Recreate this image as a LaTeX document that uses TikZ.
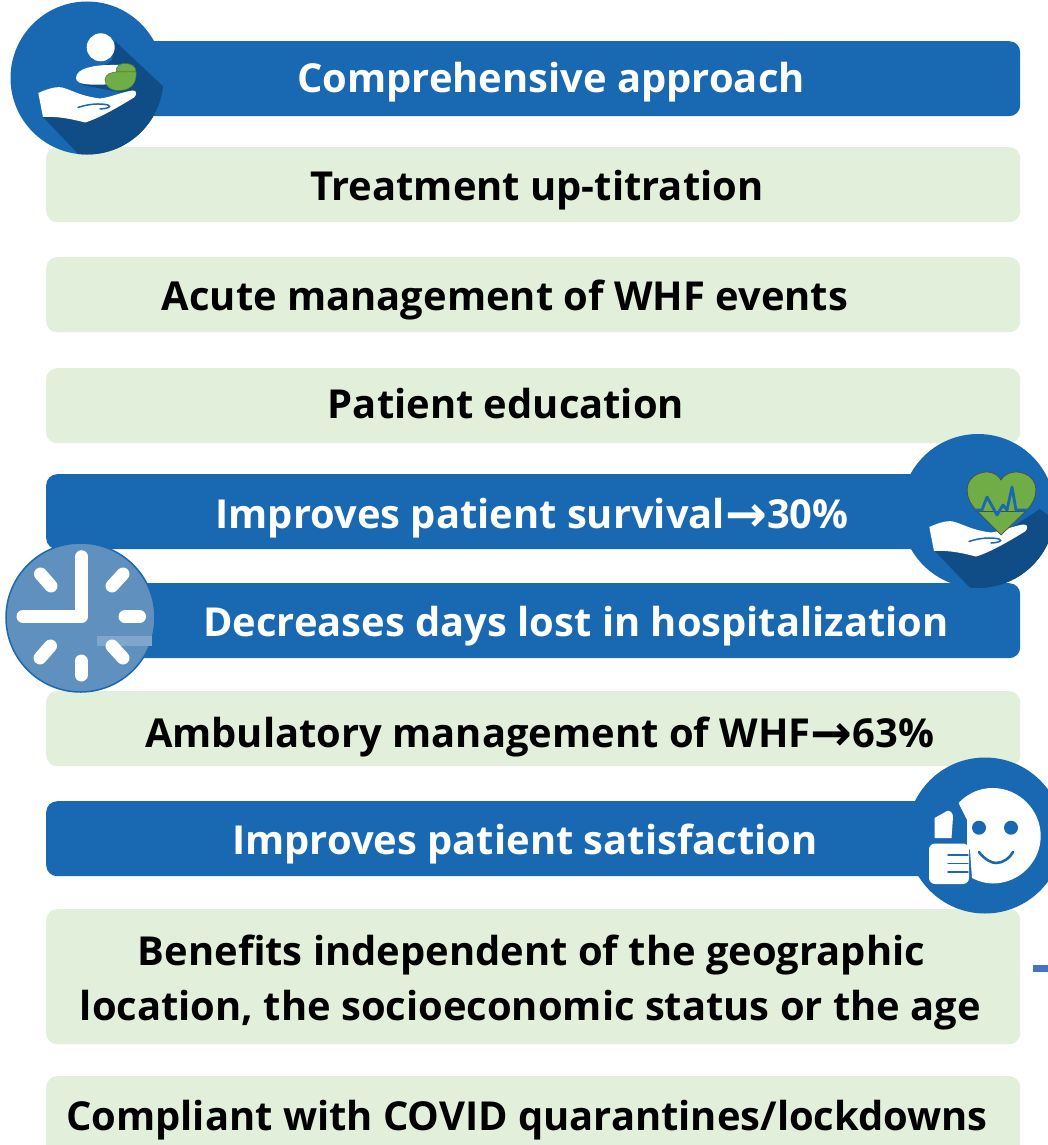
\documentclass[tikz,border=0pt]{standalone}
\usepackage{fontspec}
\setmainfont{Open Sans}
\newfontfamily\arrowfont{DejaVu Sans}
\definecolor{barblue}{HTML}{1868B2}
\definecolor{bargreen}{HTML}{E2EFDA}
\definecolor{iconshadow}{HTML}{104C85}
\definecolor{icongreen}{HTML}{70AD47}
\definecolor{clockfill}{HTML}{6090BD}
\definecolor{clockmark}{HTML}{7FA6CC}
\definecolor{dashblue}{HTML}{4472C4}
\newcommand{\arr}{{\fontsize{50}{50}\arrowfont\bfseries\raisebox{-3.5pt}{→}}}
\tikzset{
  barbase/.style={rounded corners=11pt,minimum width=974pt,inner sep=0pt,anchor=north west,minimum height=75pt},
  bluebar/.style={barbase,fill=barblue},
  greenbar/.style={barbase,fill=bargreen},
  lab/.style={inner sep=0pt,anchor=base,font=\fontsize{39.9}{55}\selectfont\bfseries,align=center},
  wlab/.style={lab,text=white},
  klab/.style={lab,text=black},
  handshape/.style={fill=white,draw=none},
  crease/.style={draw=barblue,line width=1.5pt,line cap=round},
  clockline/.style={draw=white,line width=13pt,line cap=round},
  thinblue/.style={draw=barblue,line width=1.4pt,line cap=round},
}
\newcommand{\handat}[2]{%
  \begin{scope}[shift={(#1,#2)}]
    \path[handshape] (38.3,93) .. controls (45,90) and (55,86) .. (62,87.5) .. controls (72,90) and (80,96) .. (100,98.5)
      .. controls (112,97) and (125,91) .. (133,90.5) .. controls (137,90.5) and (137,95) .. (134,97.5)
      .. controls (120,106) and (100,118) .. (85,122.5) .. controls (75,120) and (60,116) .. (43,117) -- cycle;
    \draw[crease] (78,107.5) .. controls (88,104) and (100,103) .. (108,105) .. controls (112,107) and (108,108.5) .. (100,109);
  \end{scope}}
\begin{document}
\begin{tikzpicture}[x=1pt,y=-1pt]
\useasboundingbox (0,0) rectangle (1048,1145);
\fill[white] (0,0) rectangle (1048,1145);
% bars
\node[bluebar]  (b1) at (46,41)  {};
\node[greenbar] (b2) at (46,147) {};
\node[greenbar] (b3) at (46,257) {};
\node[greenbar] (b4) at (46,368) {};
\node[bluebar]  (b5) at (46,474) {};
\node[bluebar]  (b6) at (46,583) {};
\node[greenbar] (b7) at (46,691) {};
\node[bluebar]  (b8) at (46,801) {};
\node[greenbar,minimum height=135pt] (b9) at (46,909) {};
\begin{scope}
\clip (0,0) rectangle (1048,1145);
\node[greenbar,minimum height=85pt] (b10) at (46,1076) {};
\end{scope}
\node[wlab] (t1) at (551,93) {Comprehensive approach};
\node[klab] (t2) at (537,200) {Treatment up-titration};
\node[klab] (t3) at (505,310) {Acute management of WHF events};
\node[klab] (t4) at (506,418) {Patient education};
\node[wlab] (t5) at (532,528) {Improves patient survival\arr30\%};
\node[wlab] (t6) at (576,636.5) {Decreases days lost in hospitalization};
\node[klab] (t7) at (539.5,747) {Ambulatory management of WHF\arr63\%};
\node[wlab] (t8) at (525,854) {Improves patient satisfaction};
\node[klab] (t9a) at (531.5,965) {Benefits independent of the geographic};
\node[klab] (t9b) at (530.5,1020.5) {location, the socioeconomic status or the age};
\node[klab] (t10) at (527,1130) {Compliant with COVID quarantines/lockdowns};
\fill[dashblue] (1033,965) rectangle (1048,972);
% icon 1
\fill[barblue] (87,78) circle (76.5);
\begin{scope}
\clip (87,78) circle (76.5);
\fill[iconshadow] (43,117) -- (82,158) -- (170,158) -- (170,93) -- (115,41) -- (112,60) -- (82,85) -- (135,95) -- cycle;
\end{scope}
\fill[white] (100.7,47.3) circle (14);
\fill[white] (110,65) .. controls (95,65) and (76,68) .. (76,78) .. controls (76,86) and (95,85) .. (115,84) -- (120,65) -- cycle;
\filldraw[draw=icongreen!70!black,fill=icongreen,line width=.5pt] (116,72) .. controls (116,66) and (120,63.5) .. (124,63.5) .. controls (132,63.5) and (136,66) .. (136,72) -- cycle;
\filldraw[draw=icongreen!70!black,fill=icongreen,line width=.5pt] (118,72) .. controls (124,72) and (132,72) .. (136,72) .. controls (137,82) and (132,90) .. (120,90.5) .. controls (112,91) and (105,87) .. (105,80) .. controls (105,74) and (111,72) .. (118,72) -- cycle;
\handat{0}{0}
% icon 2
\fill[barblue] (978,511) circle (77);
\begin{scope}
\clip (978,511) circle (77);
\fill[iconshadow] (934,550) -- (974,592) -- (1060,592) -- (1060,525) -- (1040,509) -- (1000,535) -- cycle;
\end{scope}
\handat{891}{434}
\filldraw[draw=black!70,fill=icongreen,line width=.7pt] (1001,535) -- (977,511) .. controls (963,497) and (964,479) .. (979,473.5) .. controls (988,470) and (997,473) .. (1001,480)
  .. controls (1005,473) and (1015,470) .. (1024,473.5) .. controls (1039,479) and (1040,497) .. (1026,511) -- cycle;
\draw[draw=black!70,line width=.7pt] (975,511.5) -- (1028,511.5);
\draw[draw=barblue,line width=2.8pt,line join=round] (975,510) -- (982,510) -- (987,497) -- (997,515) -- (1003,505) -- (1007,510) -- (1012,487) -- (1016,510) -- (1030,510);
% icon 3
\filldraw[draw=barblue,fill=clockfill,line width=1.5pt] (80.5,617.5) circle (74.5);
\fill[clockmark] (96.7,636) rectangle (151.7,646);
\draw[clockline,line join=round] (81.7,556.7) -- (81.7,616.5) -- (23,616.5);
\draw[clockline] (40.5,574) -- (51,586);
\draw[clockline] (123,574) -- (112,586);
\draw[clockline] (125,616.7) -- (139.5,616.7);
\draw[clockline] (50.5,646) -- (40,658);
\draw[clockline] (112,646) -- (123,658);
\draw[clockline] (81,661) -- (81,675);
% icon 4
\fill[barblue] (985,835.5) circle (78);
\fill[white] (958.5,803) .. controls (968,793) and (980,788) .. (992.7,788) .. controls (1019,788) and (1040.7,810) .. (1040.7,836) .. controls (1040.7,862) and (1019,883.5) .. (992.7,883.5) .. controls (985,883.5) and (978,881) .. (972,878) -- (970,850) -- (967,846) -- (967,820) -- cycle;
\fill[barblue] (979,827.7) circle (7);
\fill[barblue] (1011,827.7) circle (7);
\draw[draw=barblue,line width=2.6pt,line cap=round] (979,852) .. controls (985,860) and (992,863) .. (996,863) .. controls (1003,863) and (1010,858) .. (1013,852);
\fill[white] (934.5,838) -- (934.5,818) -- (947,811) .. controls (950,810) and (953,813) .. (953,817) -- (951.5,838) -- cycle;
\fill[white,rounded corners=6pt] (929,843.5) rectangle (969,884);
\draw[thinblue] (948,855) -- (968,855);
\draw[thinblue] (948,863.5) -- (968,863.5);
\draw[thinblue] (948,872) -- (968,872);
\end{tikzpicture}
\end{document}
